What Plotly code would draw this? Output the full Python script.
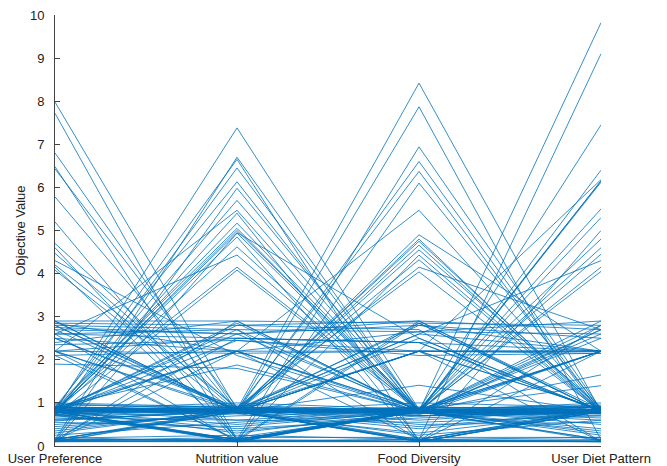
import plotly.graph_objects as go

categories = ["User Preference", "Nutrition value", "Food Diversity", "User Diet Pattern"]
y_ticks = [0, 1, 2, 3, 4, 5, 6, 7, 8, 9, 10]

# Each index is one solution; four objective values per solution.
user_pref = [
    # preference-high
    7.98, 7.72, 6.80, 6.48, 6.43, 5.78, 5.20, 4.70, 4.60, 4.47, 4.30, 4.20, 4.08, 4.15,
    # nutrition-high
    0.80, 0.15, 0.85, 0.70, 0.90, 0.12, 0.80, 2.20, 0.75, 0.85, 0.80, 0.10, 0.90, 0.82, 0.78, 2.60, 0.85, 0.70, 0.80,
    # food-high
    0.80, 0.85, 0.75, 0.80, 0.90, 0.80, 0.85, 0.78, 0.80, 0.15, 0.85, 0.80, 0.72, 0.80, 0.85, 0.80,
    # diet-high
    0.80, 0.85, 0.80, 0.75, 0.80, 0.85, 0.80, 0.90, 0.80, 0.80, 0.82, 0.80, 0.85, 0.80, 0.78, 0.80, 0.80,
    # 2-3 band
    2.90, 2.85, 2.80, 2.70, 2.60, 2.50, 2.35, 2.20, 2.10, 2.90, 2.80, 0.80, 2.70, 0.85, 2.60, 0.80, 2.50, 2.20,
    0.80, 2.40, 0.15, 2.10, 0.80, 2.85, 0.90, 0.80, 2.90, 2.75, 0.80, 2.20, 0.85, 0.80, 1.90, 0.80, 2.20,
    # low cluster
    0.80, 0.85, 0.90, 0.75, 0.70, 0.95, 0.82, 0.78, 0.60, 0.88, 0.50, 0.65, 0.40, 0.80, 0.30, 0.85, 0.92, 0.72,
    0.55, 0.80, 0.45, 0.85, 0.35, 0.80, 0.98, 0.62, 0.80, 0.25, 0.82, 0.70, 0.88, 0.58, 1.00, 0.80, 0.85, 0.80,
    # bottom
    0.10, 0.12, 0.15, 0.10, 0.80, 0.12, 0.15, 0.10, 0.20, 0.85, 0.12, 0.18, 0.10, 0.80, 0.15,
    # crossing
    0.10, 0.80, 2.60, 0.85, 0.12, 2.80, 0.80, 2.20, 0.15, 2.50,
]
nutrition = [
    0.85, 0.15, 0.80, 0.12, 0.90, 0.80, 0.15, 0.85, 0.10, 0.80, 2.10, 0.90, 0.75, 0.20,
    7.38, 6.70, 6.65, 6.45, 6.13, 5.98, 5.70, 5.47, 5.40, 5.17, 5.00, 4.94, 5.05, 4.85, 4.62, 4.43, 4.15, 4.08, 4.95,
    0.85, 0.80, 0.15, 0.80, 0.85, 0.10, 2.20, 0.80, 0.82, 0.85, 0.78, 0.80, 0.15, 0.85, 0.80, 0.90,
    0.85, 0.80, 0.80, 0.10, 0.85, 0.80, 0.82, 0.80, 0.15, 0.80, 0.85, 0.80, 0.78, 0.80, 0.85, 0.82, 0.80,
    2.90, 2.80, 2.70, 2.60, 2.50, 2.20, 2.45, 2.15, 2.20, 0.80, 0.85, 2.85, 0.80, 2.60, 2.70, 2.20, 0.90, 0.80,
    0.85, 2.90, 2.50, 0.15, 2.45, 2.20, 1.88, 0.80, 0.80, 2.60, 2.80, 0.85, 0.80, 0.85, 1.80, 2.20, 2.50,
    0.82, 0.80, 0.85, 0.80, 0.78, 0.90, 0.75, 0.85, 0.80, 0.82, 0.70, 0.60, 0.80, 0.50, 0.85, 0.30, 0.80, 0.88,
    0.45, 0.90, 0.75, 0.60, 0.82, 0.40, 0.85, 0.80, 0.95, 0.55, 0.80, 0.35, 0.80, 0.85, 0.90, 0.80, 1.00, 0.85,
    0.12, 0.10, 0.15, 0.80, 0.10, 0.15, 0.12, 0.85, 0.10, 0.80, 0.20, 0.25, 0.10, 0.12, 0.80,
    2.90, 0.15, 0.10, 0.80, 2.20, 0.80, 2.70, 0.12, 0.80, 0.85,
]
food_div = [
    0.80, 0.85, 0.75, 0.80, 0.70, 2.20, 0.80, 0.78, 0.85, 2.50, 0.80, 0.72, 0.82, 0.80,
    0.85, 0.80, 0.10, 0.80, 0.75, 0.85, 0.80, 0.70, 0.15, 0.80, 0.85, 0.80, 0.78, 0.10, 0.82, 0.80, 0.85, 0.80, 2.50,
    8.42, 7.87, 6.94, 6.60, 6.37, 6.10, 5.47, 4.90, 4.80, 4.75, 4.66, 4.55, 4.43, 4.32, 4.15, 4.04,
    0.80, 0.15, 0.85, 0.80, 0.82, 0.78, 0.80, 2.20, 0.85, 0.80, 0.15, 0.85, 0.80, 0.80, 2.60, 0.80, 0.82,
    2.85, 2.90, 2.65, 2.80, 2.40, 2.20, 2.10, 2.20, 2.65, 2.85, 0.80, 0.80, 2.20, 2.90, 0.80, 0.85, 0.80, 0.85,
    2.80, 0.80, 2.40, 0.80, 2.20, 0.15, 0.80, 1.41, 0.80, 0.85, 2.70, 2.20, 0.80, 0.85, 0.80, 0.80, 2.40,
    0.80, 0.82, 0.80, 0.85, 0.80, 0.85, 0.90, 0.75, 0.70, 0.88, 0.80, 0.55, 0.85, 0.80, 0.60, 0.80, 0.40, 0.82,
    0.80, 0.50, 0.30, 0.85, 0.78, 0.65, 0.80, 0.90, 0.80, 0.80, 0.25, 0.70, 0.82, 0.45, 0.80, 1.00, 0.85, 0.80,
    0.15, 0.12, 0.10, 0.12, 0.15, 0.80, 0.10, 0.80, 0.85, 0.12, 0.20, 0.15, 0.10, 0.80, 0.10,
    0.80, 2.90, 0.80, 0.12, 0.85, 0.10, 0.15, 2.85, 2.20, 2.60,
]
diet_pattern = [
    0.75, 0.80, 0.85, 0.90, 0.80, 0.85, 2.20, 0.75, 0.80, 0.80, 0.85, 2.70, 0.80, 0.78,
    0.80, 0.85, 0.80, 0.75, 2.20, 0.80, 0.90, 0.80, 0.85, 0.80, 0.75, 0.80, 2.60, 0.80, 0.85, 0.80, 0.90, 0.78, 0.80,
    0.80, 0.15, 0.85, 0.80, 0.75, 0.85, 0.80, 2.20, 0.80, 0.85, 0.80, 0.90, 0.80, 0.78, 2.70, 0.80,
    9.82, 9.10, 7.45, 6.40, 6.15, 6.15, 6.12, 6.18, 5.50, 5.30, 5.00, 4.80, 4.60, 4.45, 4.30, 4.15, 4.05,
    2.80, 2.70, 2.90, 2.50, 2.20, 2.20, 2.15, 2.20, 2.60, 0.80, 2.80, 2.70, 0.85, 0.80, 0.80, 2.20, 2.20, 0.80,
    2.20, 2.50, 0.80, 2.90, 2.15, 0.80, 0.85, 0.80, 0.85, 0.80, 0.10, 2.20, 1.65, 1.40, 0.80, 0.80, 0.80,
    0.85, 0.80, 0.78, 0.82, 0.90, 0.80, 0.85, 0.80, 0.75, 0.92, 0.65, 0.70, 0.50, 0.40, 0.85, 0.60, 0.80, 0.30,
    0.85, 0.55, 0.80, 0.95, 0.35, 0.80, 0.70, 0.88, 0.82, 0.80, 0.60, 0.85, 0.25, 0.80, 0.85, 0.90, 0.80, 1.00,
    0.10, 0.15, 0.12, 0.10, 0.12, 0.15, 0.80, 0.12, 0.80, 0.10, 0.20, 0.20, 0.10, 0.15, 0.85,
    0.80, 0.85, 0.80, 2.80, 2.20, 2.20, 0.85, 0.80, 0.10, 2.20,
]

positions = list(range(len(categories)))
xs, ys = [], []
for vals in zip(user_pref, nutrition, food_div, diet_pattern):
    xs += positions + [None]
    ys += list(vals) + [None]

fig = go.Figure(go.Scatter(
    x=xs, y=ys, mode="lines",
    line=dict(color="#0072BD", width=0.8),
    hoverinfo="skip", showlegend=False,
))

font = dict(family="Liberation Sans, Arial, sans-serif", size=13, color="#222222")
fig.update_layout(
    width=667, height=466,
    margin=dict(l=47, r=74, t=7, b=28),
    plot_bgcolor="white", paper_bgcolor="white",
    font=font,
    xaxis=dict(range=[0, 3], tickvals=positions, ticktext=categories,
               ticks="inside", ticklen=5, tickcolor="#444", showline=True,
               linecolor="#444", linewidth=1, showgrid=False, zeroline=False,
               tickfont=font, automargin=False, ticklabeloverflow="allow"),
    yaxis=dict(range=[0, 10], tickvals=y_ticks, ticks="inside", ticklen=5,
               tickcolor="#444", showline=True, linecolor="#444", linewidth=1,
               showgrid=False, zeroline=False, tickfont=font, automargin=False,
               ticklabelstandoff=7, ticklabeloverflow="allow",
               title=dict(text="Objective Value", font=font, standoff=1)),
)
fig.write_html("out.html")
